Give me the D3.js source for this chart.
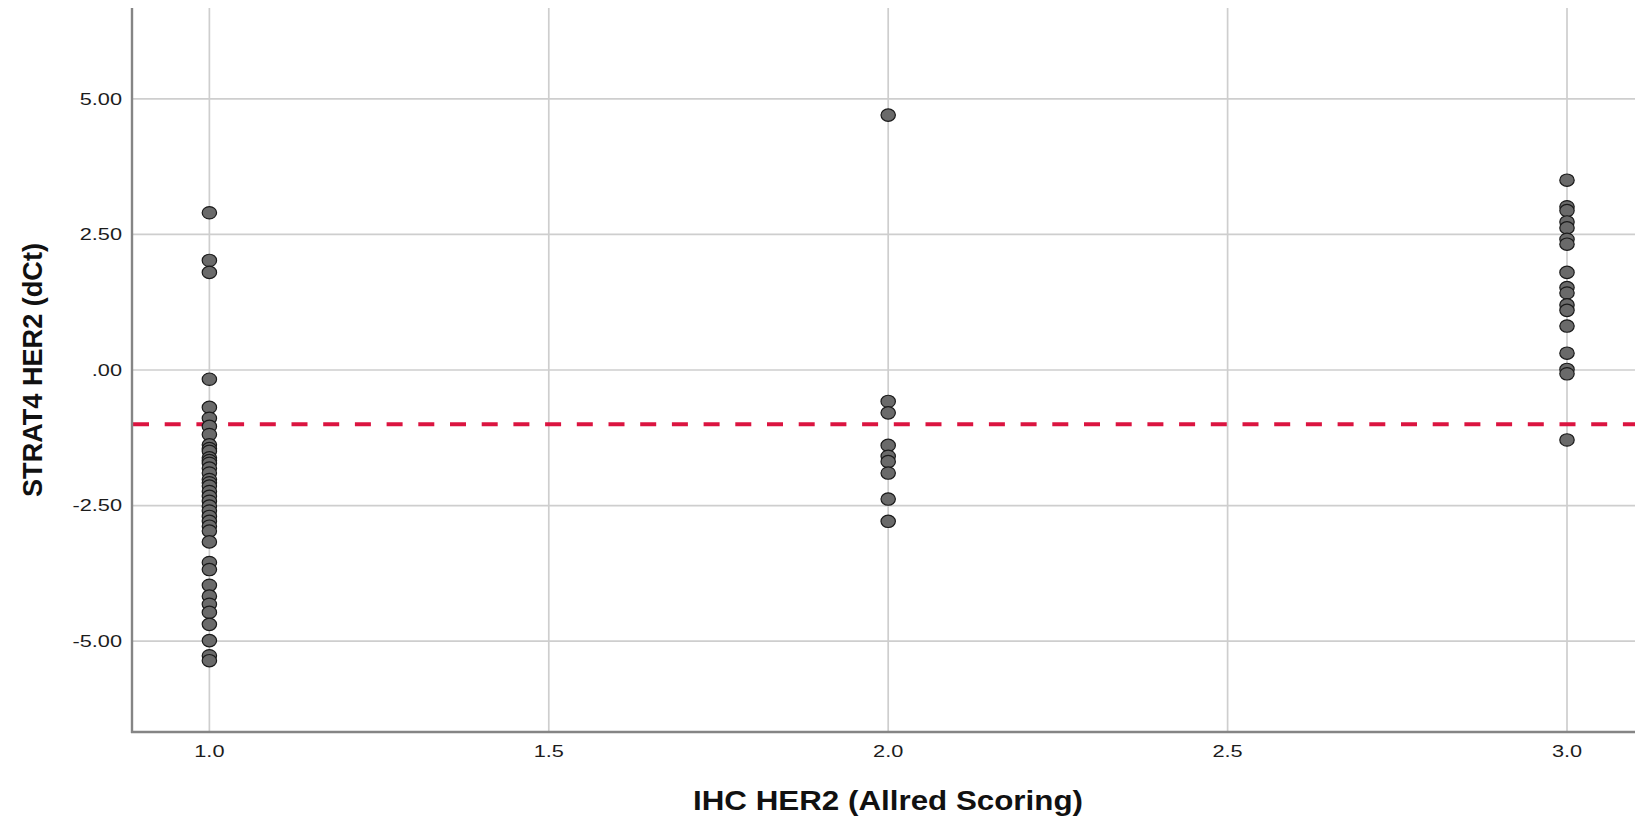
<!DOCTYPE html>
<html>
<head>
<meta charset="utf-8">
<script src="https://cdn.jsdelivr.net/npm/d3@7"></script>
<style>
  html, body { margin: 0; padding: 0; background: #ffffff; }
  svg { display: block; }
</style>
</head>
<body>
<svg id="chart" width="1635" height="821"></svg>
<script>
// IHC HER2 score groups
const ihcScores = [1.0, 2.0, 3.0];

// STRAT4 HER2 dCt values per IHC score
const dctScore1 = [2.9, 2.02, 1.8, -0.17, -0.69, -0.89, -1.04, -1.19, -1.38, -1.45, -1.5, -1.62, -1.67, -1.72,
  -1.81, -1.9, -2.02, -2.08, -2.14, -2.24, -2.33, -2.42, -2.51, -2.6, -2.7, -2.79, -2.88, -2.97, -3.17,
  -3.55, -3.68, -3.97, -4.17, -4.32, -4.47, -4.69, -4.99, -5.27, -5.36];
const dctScore2 = [4.7, -0.58, -0.79, -1.39, -1.59, -1.69, -1.9, -2.38, -2.79];
const dctScore3 = [3.5, 3.01, 2.94, 2.73, 2.62, 2.41, 2.32, 1.8, 1.52, 1.42, 1.2, 1.1, 0.81, 0.31, 0.01, -0.07, -1.29];

// Tick values and labels
const xTicks = [1.0, 1.5, 2.0, 2.5, 3.0];
const xTickLabels = ["1.0", "1.5", "2.0", "2.5", "3.0"];
const yTicks = [5, 2.5, 0, -2.5, -5];
const yTickLabels = ["5.00", "2.50", ".00", "-2.50", "-5.00"];

// Cut-off reference line
const cutoff = -1.0;

const xTitle = "IHC HER2 (Allred Scoring)";
const yTitle = "STRAT4 HER2 (dCt)";

const svg = d3.select("#chart");
const W = 1635, H = 821;
const plotLeft = 132, plotTop = 8, plotBottom = 732;

const x = d3.scaleLinear().domain([0.886, 3.0]).range([plotLeft, 1567]);
const y = d3.scaleLinear().domain([-6.675, 6.675]).range([plotBottom, plotTop]);

// grid
const grid = svg.append("g");
grid.selectAll("line.hg").data(yTicks).join("line")
  .attr("class", "hg")
  .attr("x1", plotLeft).attr("x2", W)
  .attr("y1", d => y(d)).attr("y2", d => y(d))
  .attr("stroke", "#cecece").attr("stroke-width", 1.7);
grid.selectAll("line.vg").data(xTicks).join("line")
  .attr("class", "vg")
  .attr("x1", d => x(d)).attr("x2", d => x(d))
  .attr("y1", plotTop).attr("y2", plotBottom)
  .attr("stroke", "#cecece").attr("stroke-width", 1.7);

// cut-off line
svg.append("line")
  .attr("x1", plotLeft).attr("x2", W)
  .attr("y1", y(cutoff)).attr("y2", y(cutoff))
  .attr("stroke", "#db1440").attr("stroke-width", 3.8)
  .attr("stroke-dasharray", "16,15.7")
  .attr("stroke-dashoffset", -1);

// points
const points = [];
[dctScore1, dctScore2, dctScore3].forEach((vals, i) => {
  vals.forEach(v => points.push({ s: ihcScores[i], v }));
});
svg.append("g").selectAll("ellipse").data(points).join("ellipse")
  .attr("cx", d => x(d.s)).attr("cy", d => y(d.v))
  .attr("rx", 7.2).attr("ry", 6.2)
  .attr("fill", "#6a6a6a").attr("stroke", "#1a1a1a").attr("stroke-width", 1.2);

// axis lines
svg.append("line").attr("x1", plotLeft).attr("x2", plotLeft).attr("y1", plotTop).attr("y2", plotBottom + 1)
  .attr("stroke", "#858585").attr("stroke-width", 2.4);
svg.append("line").attr("x1", plotLeft - 1).attr("x2", W).attr("y1", plotBottom).attr("y2", plotBottom)
  .attr("stroke", "#858585").attr("stroke-width", 2.4);

// tick labels
const tickFont = "'Liberation Sans', Arial, sans-serif";
svg.append("g").selectAll("text").data(yTicks).join("text")
  .attr("transform", d => `translate(122,${y(d)}) scale(1.36,1)`)
  .attr("text-anchor", "end").attr("dy", "0.36em")
  .attr("font-family", tickFont).attr("font-size", 16).attr("fill", "#1c1c1c")
  .text((d, i) => yTickLabels[i]);
svg.append("g").selectAll("text").data(xTicks).join("text")
  .attr("transform", d => `translate(${x(d)},757) scale(1.36,1)`)
  .attr("text-anchor", "middle")
  .attr("font-family", tickFont).attr("font-size", 16).attr("fill", "#1c1c1c")
  .text((d, i) => xTickLabels[i]);

// axis titles
svg.append("text")
  .attr("x", 888).attr("y", 810)
  .attr("text-anchor", "middle")
  .attr("font-family", tickFont).attr("font-weight", "bold").attr("font-size", 27)
  .attr("textLength", 390).attr("lengthAdjust", "spacingAndGlyphs")
  .attr("fill", "#111")
  .text(xTitle);
svg.append("text")
  .attr("transform", "translate(42,370) rotate(-90)")
  .attr("text-anchor", "middle")
  .attr("font-family", tickFont).attr("font-weight", "bold").attr("font-size", 27)
  .attr("textLength", 254).attr("lengthAdjust", "spacingAndGlyphs")
  .attr("fill", "#111")
  .text(yTitle);
</script>
</body>
</html>
